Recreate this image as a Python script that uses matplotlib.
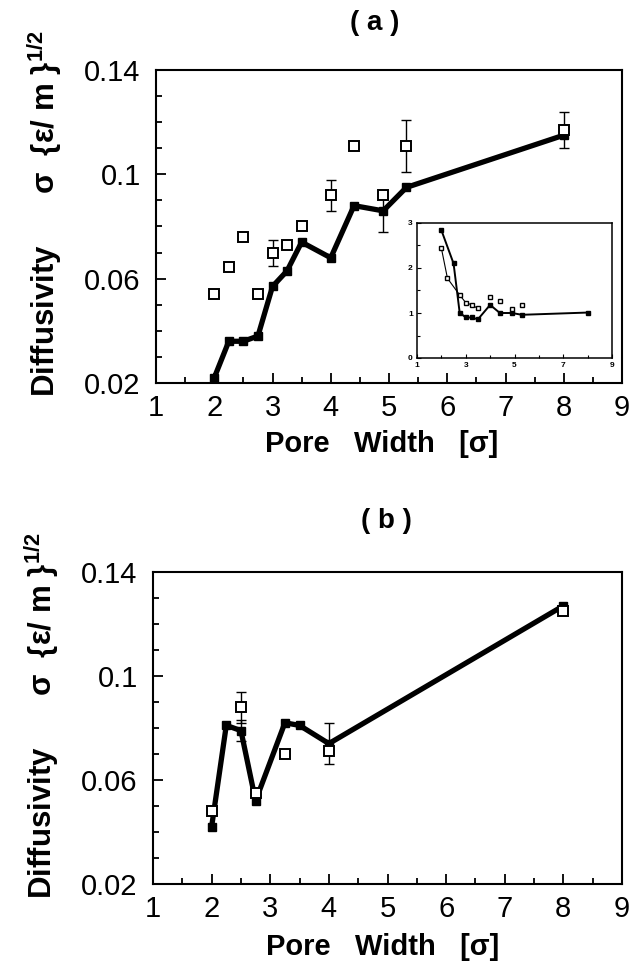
import numpy as np
import matplotlib
matplotlib.use("Agg")
import matplotlib.pyplot as plt
from matplotlib.ticker import MultipleLocator

plt.rcParams['font.family'] = ['Liberation Sans', 'DejaVu Sans']
plt.rcParams['mathtext.fontset'] = 'custom'
plt.rcParams['mathtext.rm'] = 'Liberation Sans:bold'
plt.rcParams['mathtext.default'] = 'rm'

# panel (a): simulation (filled, joined) and open squares
a_x_fill = [2, 2.25, 2.5, 2.75, 3, 3.25, 3.5, 4, 4.4, 4.9, 5.3, 8]
a_y_fill = [0.022, 0.036, 0.036, 0.038, 0.057, 0.063, 0.074, 0.068, 0.088, 0.086, 0.095, 0.115]
a_err_fill = [0, 0, 0, 0, 0, 0, 0, 0, 0, 0.008, 0, 0]
a_x_open = [2, 2.25, 2.5, 2.75, 3, 3.25, 3.5, 4, 4.4, 4.9, 5.3, 8]
a_y_open = [0.054, 0.0645, 0.076, 0.054, 0.070, 0.073, 0.080, 0.092, 0.111, 0.092, 0.111, 0.117]
a_err_open = [0, 0, 0, 0, 0.005, 0, 0, 0.006, 0, 0, 0.010, 0.007]

# inset of (a)
in_x_line = [2, 2.5, 2.75, 3, 3.25, 3.5, 4, 4.4, 4.9, 5.3, 8]
in_y_line = [2.84, 2.10, 1.01, 0.90, 0.90, 0.86, 1.18, 1.0, 1.0, 0.96, 1.01]
in_x_pts = [2, 2.25, 2.75, 3, 3.25, 3.5, 4, 4.4, 4.9, 5.3]
in_y_pts = [2.44, 1.77, 1.40, 1.23, 1.18, 1.10, 1.35, 1.27, 1.08, 1.17]

# panel (b)
b_x_fill = [2, 2.25, 2.5, 2.75, 3.25, 3.5, 4, 8]
b_y_fill = [0.042, 0.081, 0.079, 0.052, 0.082, 0.081, 0.074, 0.127]
b_err_fill = [0, 0, 0.004, 0, 0, 0, 0.008, 0]
b_x_open = [2, 2.5, 2.75, 3.25, 4, 8]
b_y_open = [0.048, 0.088, 0.055, 0.070, 0.071, 0.125]
b_err_open = [0, 0.006, 0, 0, 0, 0]

xticks = [1, 2, 3, 4, 5, 6, 7, 8, 9]
yticks = [0.02, 0.06, 0.1, 0.14]
yticklabels = ['0.02', '0.06', '0.1', '0.14']

W, H = 633, 969
fig = plt.figure(figsize=(W / 100, H / 100), dpi=100)


def style_main(ax):
    ax.set_xlim(1, 9)
    ax.set_ylim(0.02, 0.14)
    ax.set_xticks(xticks)
    ax.set_yticks(yticks)
    ax.set_yticklabels(yticklabels)
    ax.xaxis.set_minor_locator(MultipleLocator(0.5))
    ax.yaxis.set_minor_locator(MultipleLocator(0.01))
    ax.tick_params(which='both', direction='in', top=False, right=False,
                   width=1.3, labelsize=21)
    ax.tick_params(which='major', length=7)
    ax.tick_params(which='minor', length=4)
    ax.tick_params(axis='y', pad=11)
    ax.tick_params(axis='x', pad=8)
    for s in ax.spines.values():
        s.set_linewidth(1.5)


def draw(ax, xf, yf, ef, xo, yo, eo):
    ax.plot(xf, yf, color='black', lw=3.8, marker='s', ms=6,
            mfc='black', mec='black', zorder=3)
    for x, y, e in zip(xf, yf, ef):
        if e:
            ax.errorbar(x, y, yerr=e, color='black', lw=1, capsize=3.5,
                        capthick=1, zorder=2)
    for x, y, e in zip(xo, yo, eo):
        if e:
            ax.errorbar(x, y, yerr=e, color='black', lw=1, capsize=3.5,
                        capthick=1, zorder=2)
    ax.plot(xo, yo, ls='none', marker='s', ms=7, mfc='white', mec='black',
            mew=1.4, zorder=4)


ylab = 'Diffusivity      σ  {ε/ m }$^{1/2}$'
xlab = 'Pore   Width   [σ]'

# ---- (a)
ax1 = fig.add_axes([156 / W, 1 - 383 / H, 466 / W, 313 / H])
style_main(ax1)
draw(ax1, a_x_fill, a_y_fill, a_err_fill, a_x_open, a_y_open, a_err_open)
fig.text(375 / W, 1 - 23 / H, '( a )', ha='center', va='center',
         fontsize=20, fontweight='bold')
fig.text(382 / W, 1 - 444 / H, xlab, ha='center', va='center',
         fontsize=21, fontweight='bold')
fig.text(45 / W, 1 - 214 / H, ylab, rotation=90, ha='center', va='center',
         fontsize=22.5, fontweight='bold')

# inset
axi = fig.add_axes([417 / W, 1 - 358 / H, 195 / W, 135 / H])
axi.set_xlim(1, 9)
axi.set_ylim(0, 3)
axi.set_xticks([1, 3, 5, 7, 9])
axi.set_yticks([0, 1, 2, 3])
axi.xaxis.set_minor_locator(MultipleLocator(1))
axi.yaxis.set_minor_locator(MultipleLocator(0.5))
axi.tick_params(which='both', direction='in', labelsize=6, width=0.8, pad=3)
axi.tick_params(which='major', length=3)
axi.tick_params(which='minor', length=2)
for lab in axi.get_xticklabels() + axi.get_yticklabels():
    lab.set_fontweight('bold')
for s in axi.spines.values():
    s.set_linewidth(1.1)
axi.plot(in_x_line, in_y_line, color='black', lw=1.4, marker='s', ms=3,
         mfc='black', mec='black')
axi.plot(in_x_pts[:6], in_y_pts[:6], color='black', lw=0.8)
axi.plot(in_x_pts, in_y_pts, ls='none', marker='s', ms=3, mfc='white',
         mec='black', mew=1.0)

# ---- (b)
ax2 = fig.add_axes([153 / W, 1 - 884 / H, 469 / W, 312 / H])
style_main(ax2)
draw(ax2, b_x_fill, b_y_fill, b_err_fill, b_x_open, b_y_open, b_err_open)
fig.text(386 / W, 1 - 521 / H, '( b )', ha='center', va='center',
         fontsize=20, fontweight='bold')
fig.text(383 / W, 1 - 947 / H, xlab, ha='center', va='center',
         fontsize=21, fontweight='bold')
fig.text(42 / W, 1 - 716 / H, ylab, rotation=90, ha='center', va='center',
         fontsize=22.5, fontweight='bold')

fig.savefig('out.png', dpi=100)
